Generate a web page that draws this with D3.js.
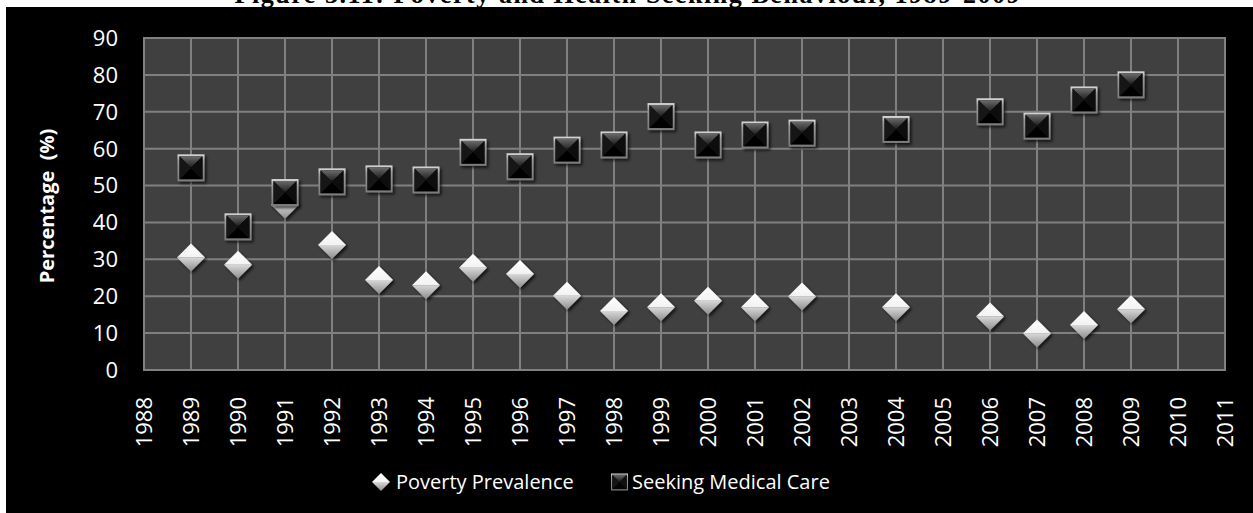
<!DOCTYPE html>
<html>
<head>
<meta charset="utf-8">
<script src="https://cdn.jsdelivr.net/npm/d3@7"></script>
<style>
  body { margin: 0; background: #fff; }
  svg { display: block; }
</style>
</head>
<body>
<div id="chart-area"></div>
<script>
// data (2003 and 2005 have no survey)
var years = [1989, 1990, 1991, 1992, 1993, 1994, 1995, 1996, 1997, 1998, 1999, 2000, 2001, 2002, 2004, 2006, 2007, 2008, 2009];
var poverty = [30.5, 28.5, 44.8, 33.9, 24.4, 23.0, 27.7, 26.0, 20.1, 16.0, 17.0, 18.8, 17.0, 19.9, 17.0, 14.5, 9.9, 12.2, 16.5];
var seeking = [54.8, 38.8, 48.1, 51.0, 51.8, 51.5, 59.0, 55.1, 59.6, 61.0, 68.7, 61.0, 63.7, 64.2, 65.2, 70.0, 66.1, 73.2, 77.3];
var seriesNames = ["Poverty Prevalence", "Seeking Medical Care"];
var yTicks = [0, 10, 20, 30, 40, 50, 60, 70, 80, 90];
var xTicks = d3.range(1988, 2012);
var title = "Figure 3.11: Poverty and Health Seeking Behaviour, 1989-2009";

var W = 1253, H = 513;

var svg = d3.select("#chart-area").append("svg")
	.attr("width", W)
	.attr("height", H);

var defs = svg.append("defs");

// shadow under the markers
var shadow = defs.append("filter").attr("id", "shadow")
	.attr("x", "-50%").attr("y", "-50%").attr("width", "200%").attr("height", "200%");
shadow.append("feDropShadow")
	.attr("dx", 2).attr("dy", 2).attr("stdDeviation", 1.6)
	.attr("flood-color", "#000").attr("flood-opacity", 0.7);

function grad(id, x1, y1, x2, y2, stops) {
	var g = defs.append("linearGradient").attr("id", id)
		.attr("x1", x1).attr("y1", y1).attr("x2", x2).attr("y2", y2);
	stops.forEach(function (s) {
		g.append("stop").attr("offset", s[0]).attr("stop-color", s[1]);
	});
}
grad("dTop", "0", "0", "0", "1", [[0, "#ffffff"], [1, "#f2f2f2"]]);
grad("dBot", "0", "0", "0", "1", [[0, "#d8d8d8"], [1, "#8c8c8c"]]);
grad("sTop", "0", "0", "0", "1", [[0, "#6a6a6a"], [1, "#1c1c1c"]]);
grad("sRim", "0", "0", "0", "1", [[0, "#d9d9d9"], [0.25, "#9a9a9a"], [1, "#7a7a7a"]]);

// black chart area under the (clipped) title
svg.append("rect")
	.attr("x", 6).attr("y", 7)
	.attr("width", W - 6).attr("height", H - 7)
	.attr("fill", "#000");

svg.append("text")
	.attr("x", 627).attr("y", 3)
	.attr("text-anchor", "middle")
	.attr("font-family", "Liberation Serif")
	.attr("font-weight", "bold")
	.attr("font-size", "26px")
	.attr("textLength", 785)
	.attr("fill", "#000")
	.text(title);

var x = d3.scaleLinear().domain([1988, 2011]).range([144, 1225]);
var y = d3.scaleLinear().domain([0, 90]).range([370, 38]);

var g = svg.append("g");

// plot area
g.append("rect")
	.attr("x", x(1988)).attr("y", y(90))
	.attr("width", x(2011) - x(1988)).attr("height", y(0) - y(90))
	.attr("fill", "#404040")
	.attr("stroke", "#7f7f7f").attr("stroke-width", 2);

// gridlines
g.selectAll(".hgrid").data(yTicks).enter().append("line")
	.attr("class", "hgrid")
	.attr("x1", x(1988)).attr("x2", x(2011))
	.attr("y1", function (d) { return y(d); })
	.attr("y2", function (d) { return y(d); })
	.attr("stroke", "#808080").attr("stroke-width", 2);

g.selectAll(".vgrid").data(xTicks).enter().append("line")
	.attr("class", "vgrid")
	.attr("y1", y(0)).attr("y2", y(90))
	.attr("x1", function (d) { return x(d); })
	.attr("x2", function (d) { return x(d); })
	.attr("stroke", "#808080").attr("stroke-width", 2);

// y tick labels
g.selectAll(".ylab").data(yTicks).enter().append("text")
	.attr("class", "ylab")
	.attr("x", 118)
	.attr("y", function (d) { return y(d); })
	.attr("dy", "0.36em")
	.attr("text-anchor", "end")
	.attr("font-family", "Open Sans")
	.attr("font-size", "22px")
	.attr("fill", "#fff")
	.text(function (d) { return d; });

// x tick labels, rotated
g.selectAll(".xlab").data(xTicks).enter().append("text")
	.attr("class", "xlab")
	.attr("transform", function (d) { return "translate(" + x(d) + ",397) rotate(-90)"; })
	.attr("dy", "0.36em")
	.attr("text-anchor", "end")
	.attr("font-family", "Open Sans")
	.attr("font-size", "22px")
	.attr("fill", "#fff")
	.text(function (d) { return d; });

// y axis title
g.append("text")
	.attr("transform", "translate(47,206) rotate(-90)")
	.attr("dy", "0.36em")
	.attr("text-anchor", "middle")
	.attr("font-family", "Open Sans")
	.attr("font-weight", "bold")
	.attr("font-size", "20px")
	.attr("fill", "#fff")
	.style("white-space", "pre")
	.text("Percentage  (%)");

// marker drawers
function diamond(sel, r) {
	sel.append("path")
		.attr("d", "M" + (-r) + ",0L0," + (-r) + "L" + r + ",0Z")
		.attr("fill", "url(#dTop)");
	sel.append("path")
		.attr("d", "M" + (-r) + ",0L" + r + ",0L0," + r + "Z")
		.attr("fill", "url(#dBot)");
}

function square(sel, h) {
	var b = h * 0.15;
	var i = h - b;
	sel.append("rect")
		.attr("x", -h).attr("y", -h).attr("width", 2 * h).attr("height", 2 * h)
		.attr("fill", "url(#sRim)");
	sel.append("rect")
		.attr("x", -i).attr("y", -i).attr("width", 2 * i).attr("height", 2 * i)
		.attr("fill", "#050505");
	// pyramid faces
	sel.append("path")
		.attr("d", "M" + (-i) + "," + (-i) + "L" + i + "," + (-i) + "L0,0Z")
		.attr("fill", "url(#sTop)");
	sel.append("path")
		.attr("d", "M" + (-i) + "," + (-i) + "L0,0L" + (-i) + "," + i + "Z")
		.attr("fill", "#151515");
	sel.append("path")
		.attr("d", "M" + i + "," + (-i) + "L0,0L" + i + "," + i + "Z")
		.attr("fill", "#101010");
}

var povData = years.map(function (yr, k) { return { year: yr, value: poverty[k] }; });
var seekData = years.map(function (yr, k) { return { year: yr, value: seeking[k] }; });

g.selectAll(".pov").data(povData).enter().append("g")
	.attr("class", "pov")
	.attr("filter", "url(#shadow)")
	.attr("transform", function (d) { return "translate(" + x(d.year) + "," + y(d.value) + ")"; })
	.each(function () { diamond(d3.select(this), 14); });

g.selectAll(".seek").data(seekData).enter().append("g")
	.attr("class", "seek")
	.attr("filter", "url(#shadow)")
	.attr("transform", function (d) { return "translate(" + x(d.year) + "," + y(d.value) + ")"; })
	.each(function () { square(d3.select(this), 13.5); });

// legend
var leg1 = g.append("g").attr("transform", "translate(381,482)");
leg1.append("g").each(function () { diamond(d3.select(this), 9); });
leg1.append("text")
	.attr("x", 15).attr("dy", "0.36em")
	.attr("font-family", "Open Sans").attr("font-size", "20px")
	.attr("fill", "#fff")
	.text(seriesNames[0]);

var leg2 = g.append("g").attr("transform", "translate(619.5,482)");
leg2.append("g").each(function () { square(d3.select(this), 8.5); });
leg2.append("text")
	.attr("x", 12.5).attr("dy", "0.36em")
	.attr("font-family", "Open Sans").attr("font-size", "20px")
	.attr("fill", "#fff")
	.text(seriesNames[1]);
</script>
</body>
</html>
